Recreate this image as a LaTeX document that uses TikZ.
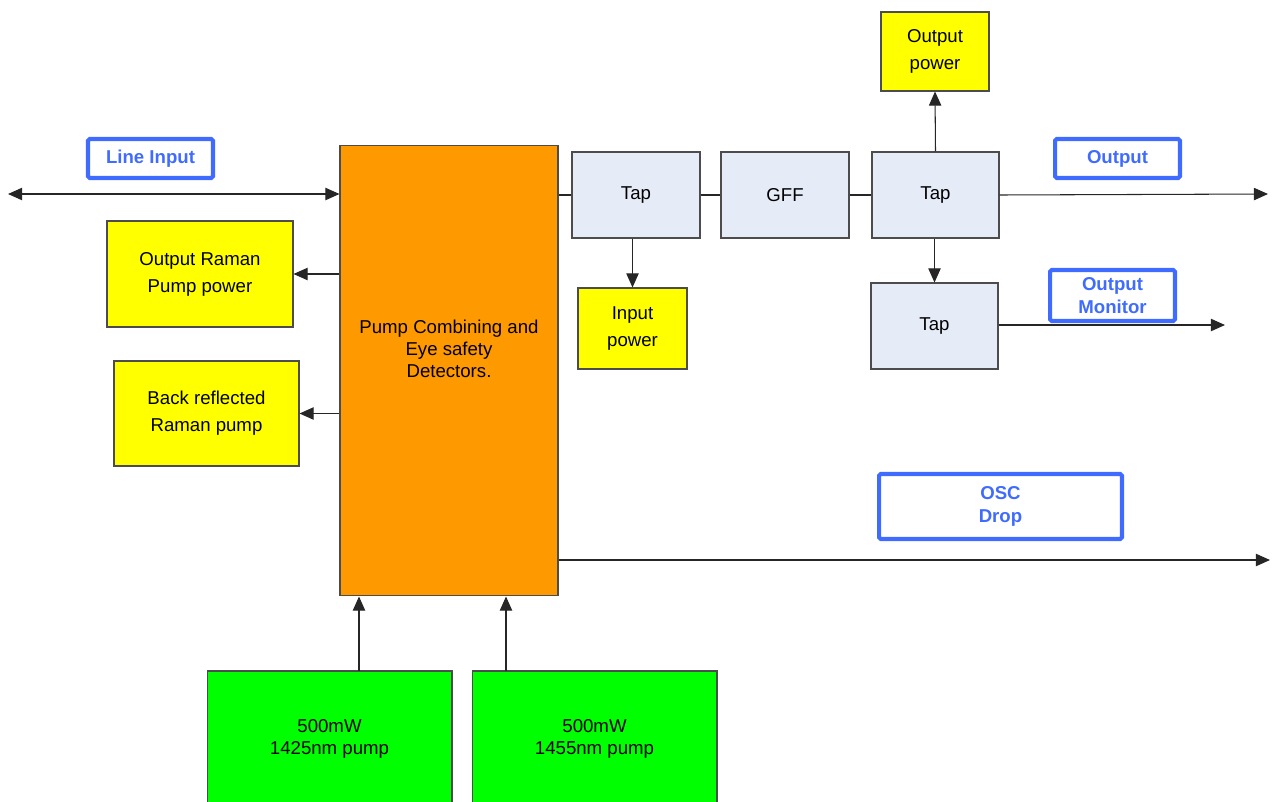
\documentclass[tikz,border=0pt]{standalone}
\usepackage{fontspec}
\setmainfont{Liberation Sans}
\usetikzlibrary{arrows.meta}
\definecolor{orangebox}{HTML}{FF9900}
\definecolor{yellowbox}{HTML}{FFFF00}
\definecolor{greenbox}{HTML}{00FF00}
\definecolor{tapbox}{HTML}{E6ECF7}
\definecolor{labelblue}{HTML}{3F6BFF}
\tikzset{
  box/.style={draw=black!70, line width=0.6pt, align=center, inner sep=0pt,
    font=\fontsize{10.6}{13}\selectfont},
  ybox/.style={box, fill=yellowbox, font=\fontsize{10.6}{15.3}\selectfont},
  gbox/.style={box, fill=greenbox},
  obox/.style={box, fill=orangebox},
  otext/.style={align=center, inner sep=0pt, font=\fontsize{10.6}{12.5}\selectfont},
  tbox/.style={box, fill=tapbox},
  lbl/.style={draw=labelblue, line width=2.3pt, rounded corners=1pt, align=center,
    inner sep=0pt, text=labelblue, font=\fontsize{10.6}{13}\selectfont\bfseries},
  conn/.style={draw=black!85, line width=0.6pt},
  tip/.style={-{Triangle[length=8pt,width=7pt]}},
  arr/.style={conn, -{Triangle[length=8pt,width=7pt]}},
  darr/.style={conn, {Triangle[length=8pt,width=7pt]}-{Triangle[length=8pt,width=7pt]}},
}
\begin{document}
\begin{tikzpicture}[x=0.02cm,y=-0.02cm]
\useasboundingbox (0,0) rectangle (1274,801);

\node[obox, minimum width=4.36cm, minimum height=9.02cm] (orange) at (449,370.5) {};
\node[otext] (orangetxt) at (449,349) {Pump Combining and\\Eye safety\\Detectors.};

\node[lbl, minimum width=2.5cm, minimum height=0.78cm] (linein) at (150.5,158.5) {Line Input};
\node[ybox, minimum width=3.72cm, minimum height=2.12cm] (orpp) at (200,274) {Output Raman\\Pump power};
\node[ybox, minimum width=3.70cm, minimum height=2.10cm] (brrp) at (206.5,413.5) {Back reflected\\Raman pump};

\node[tbox, minimum width=2.56cm, minimum height=1.72cm] (tap1) at (636,195) {Tap};
\node[tbox, minimum width=2.56cm, minimum height=1.72cm] (gff) at (785,195) {GFF};
\node[tbox, minimum width=2.54cm, minimum height=1.72cm] (tap2) at (935.5,195) {Tap};
\node[tbox, minimum width=2.54cm, minimum height=1.72cm] (tap3) at (934.5,326) {Tap};

\node[ybox, minimum width=2.16cm, minimum height=1.58cm] (outpow) at (935,51.5) {Output\\power};
\node[ybox, minimum width=2.18cm, minimum height=1.62cm] (inpow) at (632.5,328.5) {Input\\power};

\node[lbl, minimum width=2.5cm, minimum height=0.78cm] (outlbl) at (1117.5,158.5) {Output};
\node[lbl, minimum width=2.5cm, minimum height=1.02cm] (monlbl) at (1112.5,295.5) {Output\\Monitor};
\node[lbl, minimum width=4.86cm, minimum height=1.30cm] (osclbl) at (1000.5,506.5) {OSC\\Drop};

\node[gbox, minimum width=4.9cm, minimum height=2.64cm] (g1) at (329.5,737) {};
\node[otext] (g1txt) at (329.5,739) {500mW\\1425nm pump};
\node[gbox, minimum width=4.9cm, minimum height=2.64cm] (g2) at (594.5,737) {};
\node[otext] (g2txt) at (594.5,739) {500mW\\1455nm pump};

\coordinate (lineL) at (8,194);
\coordinate (outR) at (1268,194);
\coordinate (monR) at (1225,325);
\coordinate (oscR) at (1270,560);
\coordinate (p1) at (359,671);
\coordinate (p2) at (506,671);

\draw[darr] (lineL) -- (lineL -| orange.west);
\draw[arr] (orange.west |- orpp.east) -- (orpp.east);
\draw[arr] (orange.west |- brrp.east) -- (brrp.east);
\draw[conn] (tap1.west -| orange.east) -- (tap1.west);
\draw[conn] (tap1) -- (gff);
\draw[conn] (gff) -- (tap2);
\draw[arr] (tap2.north) -- (outpow.south);
\draw[arr] (tap2.east) -- (outR);
\draw[arr] (tap2.south -| tap3.north) -- (tap3.north);
\draw[arr] (tap3.east |- monR) -- (monR);
\draw[arr] (inpow.north |- tap1.south) -- (inpow.north);
\draw[arr] (oscR -| orange.east) -- (oscR);
\draw[arr] (p1) -- (p1 |- orange.south);
\draw[arr] (p2) -- (p2 |- orange.south);
\end{tikzpicture}
\end{document}
